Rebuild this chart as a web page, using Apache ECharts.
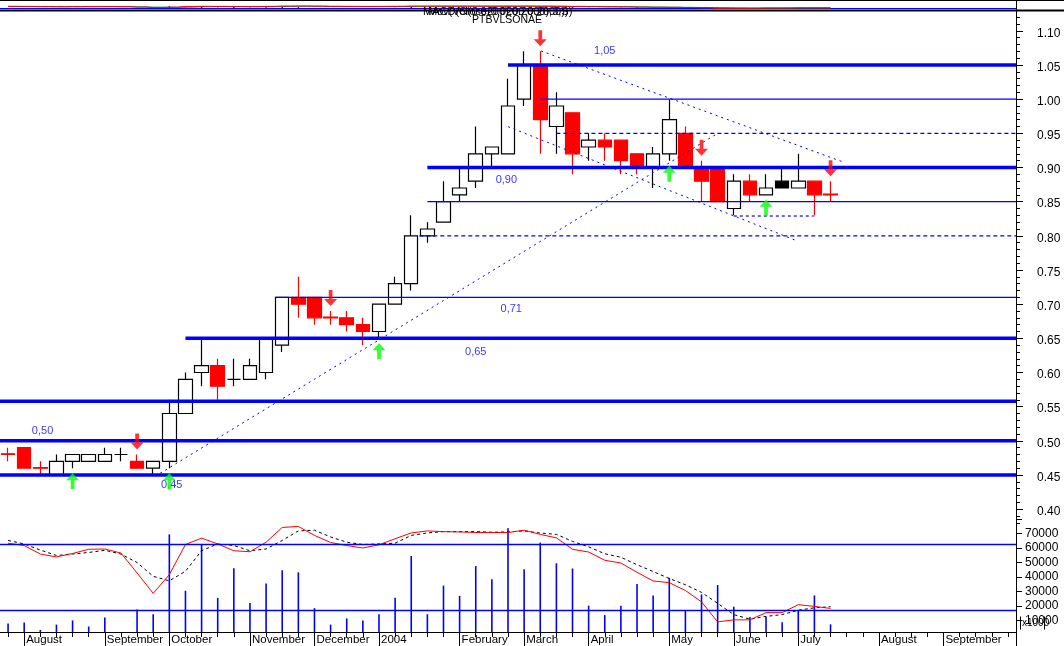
<!DOCTYPE html>
<html><head><meta charset="utf-8">
<script src="https://cdn.jsdelivr.net/npm/echarts@6/dist/echarts.min.js"></script>
<style>html,body{margin:0;padding:0;background:#fff}#c{width:1064px;height:646px}</style>
</head><body><div id="c"></div>
<script>
// ---------- DATA ----------
const weeks = ['2003-07-25','2003-08-01','2003-08-08','2003-08-15','2003-08-22','2003-08-29','2003-09-05','2003-09-12','2003-09-19','2003-09-26',
'2003-10-03','2003-10-10','2003-10-17','2003-10-24','2003-10-31','2003-11-07','2003-11-14','2003-11-21','2003-11-28','2003-12-05',
'2003-12-12','2003-12-19','2003-12-26','2004-01-02','2004-01-09','2004-01-16','2004-01-23','2004-01-30','2004-02-06','2004-02-13',
'2004-02-20','2004-02-27','2004-03-05','2004-03-12','2004-03-19','2004-03-26','2004-04-02','2004-04-09','2004-04-16','2004-04-23',
'2004-04-30','2004-05-07','2004-05-14','2004-05-21','2004-05-28','2004-06-04','2004-06-11','2004-06-18','2004-06-25','2004-07-02',
'2004-07-09','2004-07-16','2004-07-23','2004-07-30','2004-08-06','2004-08-13','2004-08-20','2004-08-27','2004-09-03','2004-09-10',
'2004-09-17','2004-09-24','2004-10-01'];
const opens  = [0.481,0.49,0.461,0.45,0.47,0.47,0.47,0.48,0.47,0.46, 0.47,0.54,0.60,0.61,0.59,0.59,0.60,0.64,0.71,0.71,
                0.681,0.68,0.67,0.66,0.70,0.73,0.80,0.82,0.86,0.88, 0.92,0.92,1.00,1.05,0.96,0.98,0.93,0.94,0.94,0.92,
                0.90,0.92,0.95,0.90,0.90,0.84,0.88,0.86,0.88,0.87, 0.88,0.861];
const closes = [0.48,0.46,0.46,0.47,0.48,0.48,0.48,0.48,0.46,0.47, 0.54,0.59,0.61,0.58,0.59,0.61,0.65,0.71,0.70,0.68,
                0.68,0.67,0.66,0.70,0.73,0.80,0.81,0.85,0.87,0.92, 0.93,0.99,1.05,0.97,0.99,0.92,0.94,0.93,0.91,0.90,
                0.92,0.97,0.90,0.88,0.85,0.88,0.86,0.87,0.87,0.88, 0.86,0.86];
const highs  = [0.49,0.49,0.47,0.48,0.48,0.48,0.49,0.49,0.48,0.47, 0.56,0.60,0.65,0.62,0.62,0.62,0.65,0.71,0.74,0.71,
                0.69,0.69,0.68,0.70,0.74,0.83,0.82,0.88,0.90,0.96, 0.93,1.03,1.07,1.07,1.01,0.98,0.95,0.95,0.94,0.92,
                0.93,1.00,0.96,0.91,0.90,0.89,0.89,0.89,0.90,0.92, 0.88,0.88];
const lows   = [0.47,0.46,0.45,0.45,0.46,0.47,0.47,0.47,0.46,0.45, 0.46,0.54,0.58,0.56,0.58,0.59,0.59,0.63,0.68,0.67,
                0.67,0.66,0.64,0.65,0.70,0.72,0.79,0.82,0.85,0.87, 0.90,0.92,0.99,0.92,0.92,0.89,0.91,0.91,0.89,0.89,
                0.87,0.91,0.90,0.85,0.85,0.83,0.85,0.86,0.87,0.87, 0.83,0.85];
const volumes = [7900,8600,3400,7100,10000,5800,12100,0,17600,14300, 69500,30500,62900,25600,46100,22000,35600,44700,43300,18500,
                 7100,11400,10000,14300,25600,54600,14300,34100,27000,47600, 38400,73800,45400,63800,49500,45900,20200,13700,20200,35200,
                 27300,39500,17100,28000,34500,19500,12400,12400,8800,17100, 27300,7300];
const oscFast = [63400,61800,55900,53900,56300,59200,59400,56600,42800,28700, 41700,62500,66900,62900,58200,57500,64100,74300,75000,68800,
                 63900,61800,60100,62300,66500,70500,71900,71400,71200,70800, 70800,70800,72400,69500,67100,59200,57300,51600,49700,43300,
                 37300,36100,30700,22800,9000,10400,10400,15400,15400,20900, 19700,18300];
const oscSlow = [65300,62900,58700,54900,55900,57000,58500,55900,50000,40500, 37400,44000,58200,62900,61800,58200,59400,65300,71900,72400,
                 67700,64100,62500,62900,63400,68800,70500,71400,71400,71400, 71000,71200,71900,70400,69500,64700,60900,56100,53700,48500,
                 43800,39000,34700,29400,21800,14000,10900,12800,14000,17100, 18700,19500];
const priceTicks = [0.40,0.45,0.50,0.55,0.60,0.65,0.70,0.75,0.80,0.85,0.90,0.95,1.00,1.05,1.10];
const volumeLabels = [10000,20000,30000,40000,50000,60000,70000];
const volumeTicks = [10000,20000,30000,40000,50000,60000,70000,80000];
const volumeGuides = [62800,17300];
const sellSignals = [8,20,33,43,51];
const buySignals = [4,10,23,41,47];
// [price, start week, kind]
const levelLines = [[1.05,31,'major'],[1.00,33,'minor'],[0.95,34,'dashed'],[0.90,26,'major'],[0.85,26,'minor'],
                    [0.80,25.5,'dashed'],[0.71,16.6,'minor'],[0.65,11,'major'],[0.558,-0.5,'major'],[0.50,-0.5,'major'],[0.45,-0.5,'major']];
const trendLines = [[[33.05,1.0705],[51.9,0.907]],[[31.0,0.9597],[48.9,0.7929]],[[9.43,0.4525],[44.0,0.95]]];
const supportLine = [[45,0.829],[50,0.829]];
const levelLabels = [['1,05',37,1.070],['0,90',30.9,0.8824],['0,71',31.2,0.693],['0,65',29,0.63],['0,50',2.14,0.514],['0,45',10.15,0.436]];
const monthNames = ['January','February','March','April','May','June','July','August','September','October','November','December'];

// ---------- BUILD ----------
const BLUE = '#0000ff';
const FONT = 'Liberation Sans, Arial, sans-serif';
const XMAX = weeks.length - 0.5;
function isMonthStart(i){ return i > 0 && i < weeks.length - 1 && weeks[i].slice(5,7) !== weeks[i-1].slice(5,7); }
function monthLabel(v){ const m = +v.slice(5,7); return m === 1 ? v.slice(0,4) : monthNames[m-1]; }

const candleData = opens.map((o,i) => {
  const v = [o, closes[i], lows[i], highs[i]];
  if (i === 48) return {value: v, itemStyle: {color0: '#000', borderColor0: '#000'}};
  return v;
});

const series = [];
series.push({
  type: 'candlestick', xAxisIndex: 0, yAxisIndex: 0, data: candleData, barWidth: 14, z: 2,
  itemStyle: {color: '#ffffff', color0: '#ff0000', borderColor: '#000000', borderColor0: '#ff0000', borderWidth: 1.2}
});
levelLines.forEach(([p, s, kind]) => {
  const ls = kind === 'major' ? {color: BLUE, width: 3.5, type: 'solid'}
           : kind === 'minor' ? {color: BLUE, width: 1.4, type: 'solid'}
           : {color: BLUE, width: 1.3, type: [4,3]};
  series.push({type: 'line', xAxisIndex: 1, yAxisIndex: 0, data: [[s, p],[XMAX, p]], symbol: 'none', lineStyle: ls, z: 3, silent: true});
});
trendLines.forEach(seg => {
  series.push({type: 'line', xAxisIndex: 1, yAxisIndex: 0, data: seg, symbol: 'none', lineStyle: {color: BLUE, width: 1, type: [2,4]}, z: 3, silent: true});
});
series.push({type: 'line', xAxisIndex: 1, yAxisIndex: 0, data: supportLine, symbol: 'none', lineStyle: {color: BLUE, width: 1.2, type: [3,3]}, z: 3, silent: true});
series.push({
  type: 'scatter', xAxisIndex: 1, yAxisIndex: 0, symbolSize: 0, z: 4, silent: true,
  data: levelLabels.map(([t, x, y]) => ({value: [x, y], name: t})),
  label: {show: true, position: 'inside', formatter: p => p.name, color: BLUE, fontSize: 11, fontFamily: FONT}
});
series.push({
  type: 'scatter', xAxisIndex: 0, yAxisIndex: 0, z: 5, silent: true,
  symbol: 'path://M5,0 L9,0 L9,9 L14,9 L7,16 L0,9 L5,9 Z', symbolSize: [13,16], symbolKeepAspect: false, symbolOffset: [0,-13],
  itemStyle: {color: '#ff0000'}, data: sellSignals.map(i => [i, highs[i]])
});
series.push({
  type: 'scatter', xAxisIndex: 0, yAxisIndex: 0, z: 5, silent: true,
  symbol: 'path://M7,0 L14,7 L9,7 L9,16 L5,16 L5,7 L0,7 Z', symbolSize: [13,16], symbolKeepAspect: false, symbolOffset: [0,13],
  itemStyle: {color: '#00ff00'}, data: buySignals.map(i => [i, lows[i]])
});
// lower panel
series.push({
  type: 'bar', xAxisIndex: 2, yAxisIndex: 2, data: volumes, barWidth: 1.6, clip: true, itemStyle: {color: BLUE}, z: 2,
  markLine: {silent: true, symbol: 'none', label: {show: false}, lineStyle: {color: BLUE, width: 1.4, type: 'solid'},
    data: volumeGuides.map(v => ({yAxis: v}))}
});
series.push({type: 'line', xAxisIndex: 2, yAxisIndex: 2, data: oscSlow, symbol: 'none', lineStyle: {color: '#000', width: 1, type: [3,3]}, z: 3});
series.push({type: 'line', xAxisIndex: 2, yAxisIndex: 2, data: oscFast, symbol: 'none', lineStyle: {color: '#ff0000', width: 1}, z: 4});
// top squeezed strip
series.push({type: 'bar', xAxisIndex: 4, yAxisIndex: 3, data: volumes, barWidth: 1.5, itemStyle: {color: BLUE}});
series.push({type: 'line', xAxisIndex: 4, yAxisIndex: 4, data: oscSlow, step: 'middle', symbol: 'none', lineStyle: {color: '#008000', width: 1}});
series.push({type: 'line', xAxisIndex: 4, yAxisIndex: 4, data: oscFast, step: 'middle', symbol: 'none', lineStyle: {color: '#ff0000', width: 1}});
// invisible carrier for the minor price ticks
series.push({type: 'line', xAxisIndex: 5, yAxisIndex: 5, data: [], symbol: 'none'});

const hidden = {axisLine: {show: false, onZero: false}, axisTick: {show: false}, axisLabel: {show: false}, splitLine: {show: false}};
const option = {
  animation: false,
  backgroundColor: '#ffffff',
  grid: [
    {left: -1, right: 48, top: 10.33, height: 512.5},
    {left: -1, right: 48, top: 519.2, height: 113.6},
    {left: -1, right: 48, top: 2, height: 6.5},
    {left: -1, right: 48, top: 10.33, height: 512.5}
  ],
  xAxis: [
    Object.assign({type: 'category', gridIndex: 0, data: weeks, boundaryGap: true}, hidden),
    Object.assign({type: 'value', gridIndex: 0, min: -0.5, max: XMAX}, hidden),
    {type: 'category', gridIndex: 1, data: weeks, boundaryGap: true,
      axisLine: {show: true, onZero: false, lineStyle: {color: '#000', width: 1}},
      axisTick: {show: true, alignWithLabel: true, interval: 0, length: 5, lineStyle: {color: '#000'}},
      axisLabel: {show: false}, splitLine: {show: false}},
    {type: 'category', gridIndex: 1, data: weeks, boundaryGap: true, position: 'bottom',
      axisLine: {show: false, onZero: false},
      axisTick: {show: true, alignWithLabel: true, interval: (i) => isMonthStart(i), length: 14, lineStyle: {color: '#000'}},
      axisLabel: {show: true, interval: (i) => isMonthStart(i), formatter: (v) => monthLabel(v), align: 'left', padding: [0,0,0,2],
        margin: 2, color: '#000', fontSize: 11.5, fontFamily: FONT},
      splitLine: {show: false}},
    Object.assign({type: 'category', gridIndex: 2, data: weeks, boundaryGap: true}, hidden),
    Object.assign({type: 'category', gridIndex: 3, data: weeks, boundaryGap: true}, hidden)
  ],
  yAxis: [
    {type: 'value', gridIndex: 0, position: 'right', min: 0.38, max: 1.13,
      axisLine: {show: true, onZero: false, lineStyle: {color: '#000', width: 1}},
      axisTick: {show: true, customValues: priceTicks, length: 7, lineStyle: {color: '#000'}},
      axisLabel: {show: true, customValues: priceTicks, formatter: v => v.toFixed(2), margin: 21, verticalAlign: 'top', lineHeight: 5,
        color: '#000', fontSize: 12, fontFamily: FONT, align: 'left'},
      splitLine: {show: false}},
    Object.assign({type: 'value', gridIndex: 0, position: 'left', min: 0, max: 1}, hidden),
    {type: 'value', gridIndex: 1, position: 'right', min: 2000, max: 80000,
      axisLine: {show: true, onZero: false, lineStyle: {color: '#000', width: 1}},
      axisTick: {show: true, customValues: volumeTicks, length: 6, lineStyle: {color: '#000'}},
      axisLabel: {show: true, customValues: volumeLabels, formatter: v => String(v), margin: 9, color: '#000', fontSize: 12, fontFamily: FONT, align: 'left'},
      splitLine: {show: false}},
    Object.assign({type: 'value', gridIndex: 2, position: 'right', min: 0, max: 200000}, hidden),
    Object.assign({type: 'value', gridIndex: 2, position: 'left', min: 0, max: 200000}, hidden),
    {type: 'value', gridIndex: 3, position: 'right', min: 0.38, max: 1.13, interval: 0.01,
      axisLine: {show: false, onZero: false}, axisTick: {show: true, length: 4, lineStyle: {color: '#000'}},
      axisLabel: {show: false}, splitLine: {show: false}}
  ],
  series: series,
  graphic: [
    {type: 'line', shape: {x1: 0, y1: 0.5, x2: 1064, y2: 0.5}, style: {stroke: '#000', lineWidth: 1}, silent: true},
    {type: 'line', shape: {x1: 0, y1: 8.5, x2: 1016, y2: 8.5}, style: {stroke: BLUE, lineWidth: 1}, silent: true},
    {type: 'line', shape: {x1: 0, y1: 10.5, x2: 1064, y2: 10.5}, style: {stroke: '#000', lineWidth: 2}, silent: true},
    {type: 'line', shape: {x1: 1016.5, y1: 0, x2: 1016.5, y2: 646}, style: {stroke: '#000', lineWidth: 1}, silent: true},
    {type: 'text', x: 423, y: 6, style: {text: 'MACD(Close(0.0200,0.2000))', fill: '#000', font: '11px ' + FONT}, silent: true},
    {type: 'text', x: 428, y: 6, style: {text: 'Mov(Vol(0.0200),0.2000),3,S)', fill: '#000', font: '11px ' + FONT}, silent: true},
    {type: 'text', x: 472, y: 15, style: {text: 'PTBVLSONAE', fill: '#000', font: '10.5px ' + FONT}, silent: true},
    {type: 'group', left: 1018, top: 614, silent: true, children: [
      {type: 'rect', shape: {x: 0, y: 0, width: 25, height: 13}, style: {fill: '#fff', stroke: null}},
      {type: 'line', shape: {x1: 0.5, y1: 0, x2: 0.5, y2: 13}, style: {stroke: '#000', lineWidth: 1}},
      {type: 'line', shape: {x1: 24.5, y1: 0, x2: 24.5, y2: 13}, style: {stroke: '#000', lineWidth: 1}},
      {type: 'text', x: 2, y: 1.5, style: {text: 'x1000', fill: '#000', font: '10px ' + FONT}}
    ]}
  ]
};
const chart = echarts.init(document.getElementById('c'), null, {renderer: 'canvas'});
chart.setOption(option);
</script>
</body></html>
